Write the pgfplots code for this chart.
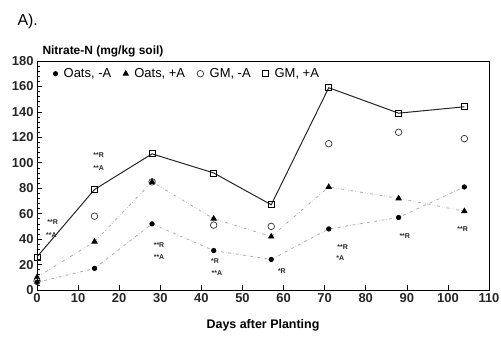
\documentclass[border=0pt]{standalone}
\usepackage{fontspec}
\setmainfont{Liberation Sans}
\usepackage{pgfplots}
\pgfplotsset{compat=1.18}
\begin{document}
\begin{tikzpicture}
\path[use as bounding box] (-37bp,-47bp) rectangle (464bp,290bp);
\begin{axis}[
  scale only axis, width=452bp, height=229bp,
  xmin=0, xmax=110, ymin=0, ymax=180,
  xtick={0,10,...,110}, ytick={0,20,...,180},
  minor y tick num=4,
  xtick pos=bottom, ytick pos=left,
  tick align=inside,
  major tick length=5bp, minor tick length=3bp,
  /pgf/number format/assume math mode=true,
  ticklabel style={font=\bfseries\fontsize{13}{15}\selectfont, text=black!85},
  axis line style={black, line width=0.9pt},
  every tick/.style={black, line width=0.6pt},
  xlabel={Days after Planting},
  xlabel style={font=\bfseries\fontsize{12.5}{14}\selectfont, at={(axis description cs:0.5,0)}, anchor=center, yshift=-35bp},
  legend columns=4,
  legend style={draw=none, fill=none, at={(axis cs:3.2,170)}, anchor=west,
    font=\fontsize{13}{15}\selectfont, column sep=4bp,
    /tikz/every even column/.append style={column sep=10bp}},
  legend image code/.code={\draw[#1, only marks] plot coordinates {(0.08cm,0cm)};},
  legend cell align=left,
]
\addplot[gray!65, dash dot, line width=0.8pt, mark=*, mark size=2.2pt,
  mark options={solid, fill=black, draw=black}] coordinates {
  (0,6) (14,17) (28,52) (43,31) (57,24) (71,48) (88,57) (104,81)};
\addlegendentry{Oats, -A}
\addplot[gray!65, dash dot dot, line width=0.8pt, mark=triangle*, mark size=3pt,
  mark options={solid, fill=black, draw=black}] coordinates {
  (0,10) (14,38) (28,85) (43,56) (57,42) (71,81) (88,72) (104,62)};
\addlegendentry{Oats, +A}
\addplot[only marks, mark=o, mark size=3.3pt,
  mark options={solid, draw=black!80, line width=0.7pt}] coordinates {
  (0,7) (14,58) (28,85) (43,51) (57,50) (71,115) (88,124) (104,119)};
\addlegendentry{GM, -A}
\addplot[black!85, line width=1pt, mark=square, mark size=3pt,
  mark options={solid, draw=black, line width=0.8pt, fill=white}] coordinates {
  (0,26) (14,79) (28,107) (43,92) (57,67) (71,159) (88,139) (104,144)};
\addlegendentry{GM, +A}
\begin{scope}[every node/.style={font=\bfseries\fontsize{7}{8}\selectfont, inner sep=0pt, text=black!85}]
\node at (axis cs:3.8,53) {**R};
\node at (axis cs:3.5,43) {**A};
\node at (axis cs:15,106) {**R};
\node at (axis cs:15,96) {**A};
\node at (axis cs:29.7,35) {**R};
\node at (axis cs:29.7,26) {**A};
\node at (axis cs:43.3,23) {*R};
\node at (axis cs:43.8,13) {**A};
\node at (axis cs:59.6,15) {*R};
\node at (axis cs:74.4,34) {**R};
\node at (axis cs:73.8,25) {*A};
\node at (axis cs:89.5,42) {**R};
\node at (axis cs:103.6,48) {**R};
\end{scope}
\end{axis}
\node[anchor=west, font=\fontsize{16}{18}\selectfont] at (-23bp,269bp) {A).};
\node[anchor=west, font=\bfseries\fontsize{12}{14}\selectfont] at (2bp,239bp) {Nitrate-N (mg/kg soil)};
\end{tikzpicture}
\end{document}
